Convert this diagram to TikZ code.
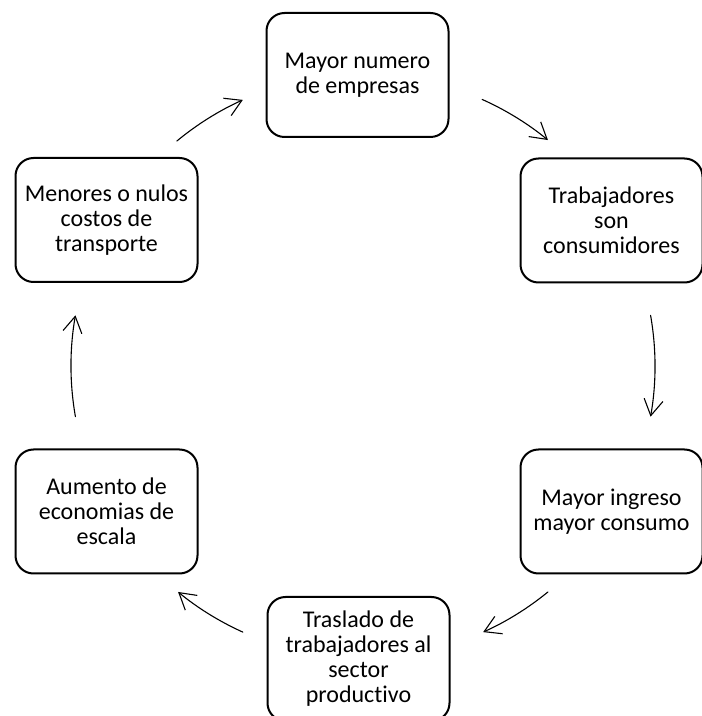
\documentclass[tikz,border=0pt]{standalone}
\usepackage{fontspec}
\setmainfont{Carlito}[Ligatures=NoCommon]
\usetikzlibrary{arrows.meta}
\begin{document}
\begin{tikzpicture}[x=1pt,y=1pt,
  stage/.style={draw, line width=2pt, rounded corners=18pt,
    minimum width=182pt, minimum height=124pt, align=center, inner sep=0pt,
    font=\fontsize{24}{25}\selectfont},
  loop arrow/.style={line width=1.1pt, line cap=round,
    -{Straight Barb[length=16pt,width=19pt,line width=1.1pt]}}]
\useasboundingbox (0,0) rectangle (702,716);

% the six stages of the cycle
\node[stage] (firms)   at (357.5,641)   {Mayor numero\\de empresas};
\node[stage] (workers) at (611.5,495.5) {Trabajadores\\son\\consumidores};
\node[stage] (income)  at (611.5,204.5) {Mayor ingreso\\mayor consumo};
\node[stage] (move)    at (358.5,57)    {Traslado de\\trabajadores al\\sector\\productivo};
\node[stage] (scale)   at (106.5,204.5) {Aumento de\\economias de\\escala};
\node[stage] (costs)   at (106.5,496)   {Menores o nulos\\costos de\\transporte};

% arrows run clockwise along one common circle
\coordinate (hub) at (363,350);
\def\R{292}
\path (hub) ++(129.6:\R) coordinate (costs-out)
      (hub) ++(65.9:\R)  coordinate (firms-out)
      (hub) ++(10:\R)    coordinate (workers-out)
      (hub) ++(-50.7:\R) coordinate (income-out)
      (hub) ++(-114.3:\R) coordinate (move-out)
      (hub) ++(190:\R)   coordinate (scale-out);

\draw[loop arrow] (costs-out)   arc[start angle=129.6,  end angle=114.3,  radius=\R];
\draw[loop arrow] (firms-out)   arc[start angle=65.9,   end angle=50.7,   radius=\R];
\draw[loop arrow] (workers-out) arc[start angle=10,     end angle=-10,    radius=\R];
\draw[loop arrow] (income-out)  arc[start angle=-50.7,  end angle=-65.7,  radius=\R];
\draw[loop arrow] (move-out)    arc[start angle=-114.3, end angle=-129.3, radius=\R];
\draw[loop arrow] (scale-out)   arc[start angle=190,    end angle=170,    radius=\R];
\end{tikzpicture}
\end{document}
